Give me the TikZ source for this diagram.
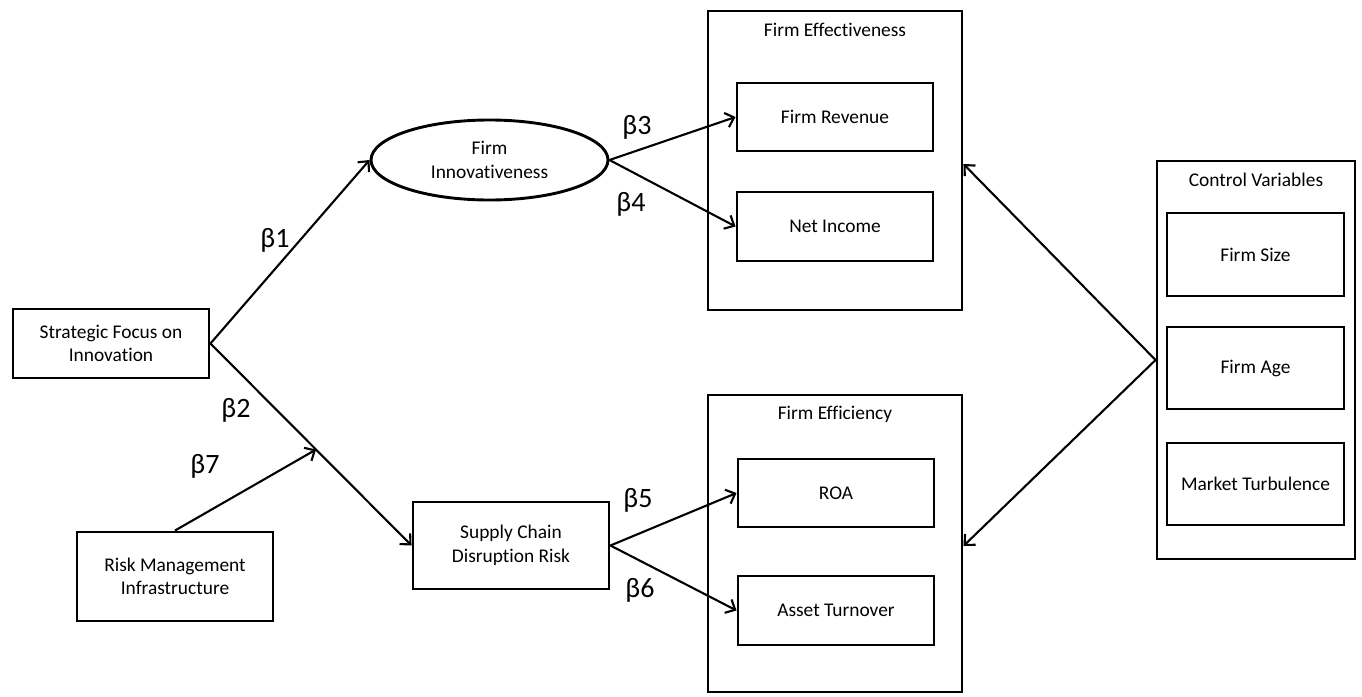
\documentclass[tikz,border=0pt]{standalone}
\usepackage{fontspec}
\setmainfont[Ligatures=NoCommon]{Carlito}
\usetikzlibrary{arrows.meta,shapes.geometric,calc}
\begin{document}
\begin{tikzpicture}[x=1pt,y=-1pt,
  box/.style={draw,line width=2.9pt,rectangle,inner sep=0pt,align=center,font=\fontsize{19.4}{23.5}\selectfont},
  frame/.style={draw,line width=2.9pt,rectangle,inner sep=0pt},
  ttl/.style={font=\fontsize{19.4}{23.5}\selectfont},
  beta/.style={font=\fontsize{28}{32}\selectfont},
  link/.style={line width=2.1pt,-{Straight Barb[length=8pt,width=15pt,line width=2.1pt]}}]
\useasboundingbox (0,0) rectangle (1362,696);

% left-hand constructs
\node[box,minimum width=196pt,minimum height=69pt] (sfi) at (111,343.5) {Strategic Focus on\\Innovation};
\node[box,minimum width=196pt,minimum height=89pt] (rmi) at (175,576.5) {Risk Management\\Infrastructure};

% mediators
\node[draw,ellipse,line width=2.9pt,minimum width=237pt,minimum height=80pt,inner sep=0pt,align=center,
      font=\fontsize{19.4}{23.5}\selectfont] (inn) at (489.5,160) {Firm\\Innovativeness};
\node[box,minimum width=196pt,minimum height=87pt] (scd) at (511,545.5) {Supply Chain\\Disruption Risk};

% firm effectiveness group
\node[frame,minimum width=254pt,minimum height=299pt] (eff) at (835,160.5) {};
\node[ttl] (efft) at (835,30) {Firm Effectiveness};
\node[box,minimum width=196pt,minimum height=68pt] (rev) at (835,117) {Firm Revenue};
\node[box,minimum width=196pt,minimum height=69pt] (net) at (835,226.5) {Net Income};

% firm efficiency group
\node[frame,minimum width=254pt,minimum height=297pt] (effi) at (835,543.5) {};
\node[ttl] (effit) at (835,414) {Firm Efficiency};
\node[box,minimum width=196pt,minimum height=68pt] (roa) at (836,493) {ROA};
\node[box,minimum width=196pt,minimum height=69pt] (ato) at (836,610.5) {Asset Turnover};

% control variables group
\node[frame,minimum width=198pt,minimum height=398pt] (ctl) at (1256,360) {};
\node[ttl] (ctlt) at (1256,180) {Control Variables};
\node[box,minimum width=177pt,minimum height=83pt] (size) at (1255.5,254.5) {Firm Size};
\node[box,minimum width=177pt,minimum height=82pt] (age) at (1255.5,368) {Firm Age};
\node[box,minimum width=177pt,minimum height=82pt] (turb) at (1255.5,484) {Market Turbulence};

% paths
\coordinate (mod) at ($(sfi.east)!0.525!(scd.west)$);
\draw[link] (sfi.east) -- (inn.west);
\draw[link] (sfi.east) -- (scd.west);
\draw[link] (rmi.north) -- (mod);
\draw[link] (inn.east) -- (rev.west);
\draw[link] (inn.east) -- (net.west);
\draw[link] (scd.east) -- (roa.west);
\draw[link] (scd.east) -- (ato.west);
\coordinate (cv) at (ctl.west);
\draw[link] (cv) -- (eff.east |- 0,164);
\draw[link] (cv) -- (effi.east |- 0,546);

% coefficients
\node[beta] (b1) at (275,240) {β1};
\node[beta] (b2) at (236,410) {β2};
\node[beta] (b3) at (637,127) {β3};
\node[beta] (b4) at (631,204) {β4};
\node[beta] (b5) at (638,500) {β5};
\node[beta] (b6) at (640,590) {β6};
\node[beta] (b7) at (205,466) {β7};
\end{tikzpicture}
\end{document}
